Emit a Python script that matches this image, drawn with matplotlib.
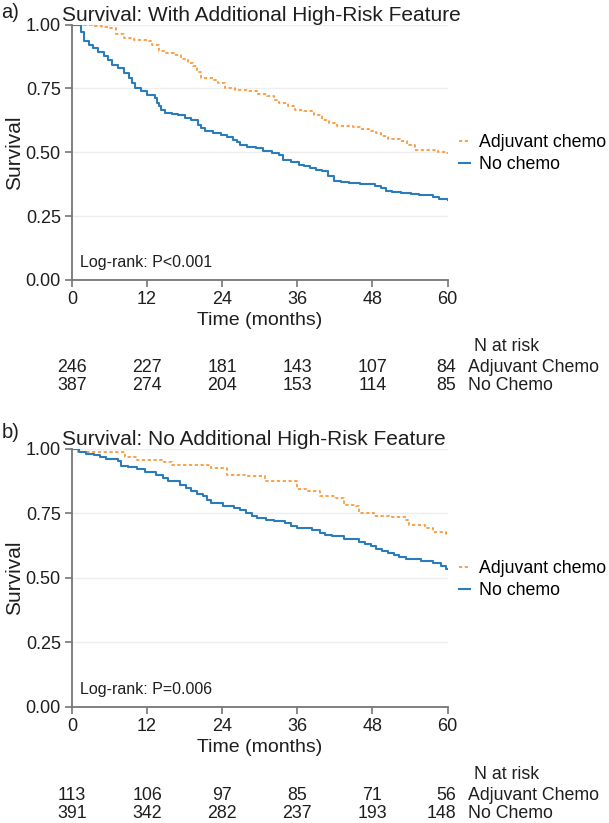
import matplotlib.pyplot as plt
import matplotlib.transforms as mtransforms

plt.rcParams['font.family'] = ['Liberation Sans', 'DejaVu Sans']

# ---- data (months, survival) ----
a_chemo_t = [0, 2, 3.5, 4.8, 5.8, 7, 8.3, 10, 12, 12.8, 13.9, 15, 16.3, 17.5, 18.5, 19.4,
             20, 20.7, 22.5, 23.3, 24.4, 26, 28.1, 29.5, 31.2, 32.2, 33.1, 34.5, 35.6, 37,
             38.7, 39.9, 41, 42.4, 44.9, 46, 47.4, 48.5, 49.3, 50.5, 52.4, 53.5, 54.8,
             57.3, 58.5, 59.8, 60]
a_chemo_s = [1.0, 1.0, 0.995, 0.99, 0.987, 0.965, 0.948, 0.94, 0.935, 0.92, 0.895, 0.89,
             0.882, 0.865, 0.85, 0.837, 0.815, 0.79, 0.784, 0.77, 0.75, 0.745, 0.739, 0.73,
             0.719, 0.705, 0.693, 0.68, 0.667, 0.66, 0.647, 0.627, 0.615, 0.604, 0.599,
             0.59, 0.582, 0.575, 0.562, 0.55, 0.543, 0.53, 0.51, 0.51, 0.50, 0.497, 0.497]
a_none_t = [0, 1.1, 1.5, 2.0, 2.7, 3.3, 4.2, 5.2, 5.8, 6.4, 7.3, 8.3, 9.2, 9.6, 10.1, 11,
            12, 13.2, 13.6, 13.9, 14.3, 14.8, 16, 17, 18, 19, 20.1, 20.7, 21.3, 22.5, 23.8,
            24.8, 25.7, 26.3, 26.9, 28, 29.4, 30.6, 31.9, 33.1, 33.7, 35, 36.2, 37, 38.1,
            39, 40, 40.9, 41.8, 43, 44.3, 46, 47.4, 48.4, 49.3, 50.2, 51.1, 52.6, 54.2,
            55.5, 56.7, 57.6, 58.6, 60]
a_none_s = [1.0, 1.0, 0.97, 0.935, 0.92, 0.908, 0.893, 0.876, 0.86, 0.843, 0.83, 0.81,
            0.79, 0.77, 0.75, 0.74, 0.725, 0.712, 0.695, 0.68, 0.665, 0.654, 0.65, 0.647,
            0.635, 0.625, 0.608, 0.595, 0.582, 0.575, 0.569, 0.56, 0.549, 0.54, 0.529,
            0.522, 0.516, 0.506, 0.497, 0.49, 0.471, 0.46, 0.451, 0.445, 0.438, 0.43,
            0.425, 0.405, 0.386, 0.382, 0.379, 0.377, 0.376, 0.368, 0.359, 0.35, 0.346,
            0.341, 0.337, 0.334, 0.333, 0.326, 0.318, 0.314]

b_chemo_t = [0, 1, 7.6, 8.5, 10.4, 14.7, 16, 22.2, 24.7, 27.8, 30.9, 35.9, 37.7, 39.6,
             42.1, 43.4, 45.3, 45.8, 48.3, 50.8, 53.3, 53.9, 56.4, 57.7, 59.8, 60]
b_chemo_s = [1.0, 0.99, 0.99, 0.968, 0.959, 0.948, 0.939, 0.926, 0.90, 0.894, 0.874,
             0.844, 0.836, 0.816, 0.81, 0.784, 0.778, 0.752, 0.742, 0.738, 0.725, 0.705,
             0.692, 0.68, 0.671, 0.671]
b_none_t = [0, 1.1, 2.3, 3.5, 4.5, 5.4, 7.3, 7.9, 9, 10.4, 11.6, 13.5, 14.5, 15.4, 17.2,
            18.2, 19.1, 20, 21, 21.6, 22.2, 24.1, 25.9, 26.9, 27.8, 28.7, 29.6, 31, 32.2,
            34, 35, 35.9, 38.4, 39.6, 40.5, 41.5, 43.4, 45.8, 46.8, 47.7, 48.6, 49.6, 50.5,
            51.4, 52.3, 53.3, 55.8, 57.7, 59, 59.8, 60]
b_none_s = [1.0, 0.99, 0.982, 0.978, 0.97, 0.961, 0.952, 0.935, 0.93, 0.922, 0.909, 0.90,
            0.886, 0.874, 0.861, 0.848, 0.836, 0.826, 0.816, 0.803, 0.79, 0.777, 0.771,
            0.762, 0.752, 0.742, 0.733, 0.726, 0.72, 0.713, 0.703, 0.694, 0.687, 0.674,
            0.667, 0.661, 0.651, 0.638, 0.63, 0.622, 0.612, 0.603, 0.596, 0.59, 0.582,
            0.573, 0.567, 0.558, 0.548, 0.534, 0.534]

risk_times = [0, 12, 24, 36, 48, 60]
a_risk_chemo = [246, 227, 181, 143, 107, 84]
a_risk_none = [387, 274, 204, 153, 114, 85]
b_risk_chemo = [113, 106, 97, 85, 71, 56]
b_risk_none = [391, 342, 282, 237, 193, 148]

titles = ['Survival: With Additional High-Risk Feature',
          'Survival: No Additional High-Risk Feature']
pvals = ['Log-rank: P<0.001', 'Log-rank: P=0.006']
tags = ['a)', 'b)']

orange = '#fb9a3c'
blue = '#2b7cbc'
grey = '#767676'
txt = '#1e1e1e'

fig = plt.figure(figsize=(6.09, 8.23), dpi=100)
ax_a = fig.add_axes([0.118, 0.660, 0.617, 0.310])
ax_b = fig.add_axes([0.118, 0.141, 0.617, 0.3135])

panels = [
    (ax_a, a_chemo_t, a_chemo_s, a_none_t, a_none_s, a_risk_chemo, a_risk_none),
    (ax_b, b_chemo_t, b_chemo_s, b_none_t, b_none_s, b_risk_chemo, b_risk_none),
]

for i, (ax, ct, cs, nt, ns, rc, rn) in enumerate(panels):
    ax.plot(ct, cs, drawstyle='steps-post', color=orange, lw=1.3, ls=(0, (1.8, 1.4)),
            label='Adjuvant chemo')
    ax.plot(nt, ns, drawstyle='steps-post', color=blue, lw=1.5, label='No chemo')

    ax.set_xlim(0, 60)
    ax.set_ylim(0, 1.0)
    ax.set_xticks(risk_times)
    ax.set_yticks([0, 0.25, 0.5, 0.75, 1.0])
    ax.set_yticklabels(['0.00', '0.25', '0.50', '0.75', '1.00'])
    ax.yaxis.grid(True, color='#eeeeee', lw=1.0)
    ax.set_axisbelow(True)
    for s in ['top', 'right']:
        ax.spines[s].set_visible(False)
    for s in ['left', 'bottom']:
        ax.spines[s].set_color(grey)
        ax.spines[s].set_linewidth(1.3)
    ax.tick_params(colors=grey, labelcolor=txt, labelsize=13, length=5, width=1.2, pad=3)

    ax.set_ylabel('Survival', fontsize=15, color=txt)
    ax.yaxis.set_label_coords(-0.128, 0.5)
    ax.set_xlabel('Time (months)', fontsize=14, color=txt, labelpad=3)
    ax.set_title(titles[i], fontsize=15, color=txt, loc='left', x=-0.027, pad=3)
    ax.text(1.3, 0.067, pvals[i], fontsize=11.5, color=txt, va='center')

    ax.legend(loc='center left', bbox_to_anchor=(1.03, 0.495), frameon=False,
              fontsize=12.8, handlelength=0.6, handletextpad=0.55, labelspacing=0.28,
              borderaxespad=0, borderpad=0)

    # number at risk table
    trans = mtransforms.blended_transform_factory(ax.transData, ax.transAxes)
    ax.text(64.2, -0.26, 'N at risk', transform=trans, fontsize=12.8, color=txt,
            va='center', ha='left')
    for j, t in enumerate(risk_times):
        ha = 'right' if t == 60 else 'center'
        xx = 61.4 if t == 60 else t
        ax.text(xx, -0.345, str(rc[j]), transform=trans, fontsize=12.8, ha=ha,
                va='center', color=txt)
        ax.text(xx, -0.413, str(rn[j]), transform=trans, fontsize=12.8, ha=ha,
                va='center', color=txt)
    ax.text(63.2, -0.345, 'Adjuvant Chemo', transform=trans, fontsize=12.8, ha='left',
            va='center', color=txt)
    ax.text(63.2, -0.413, 'No Chemo', transform=trans, fontsize=12.8, ha='left',
            va='center', color=txt)

fig.text(0.002, 1 - 12 / 823, tags[0], fontsize=14.5, color=txt, va='center')
fig.text(0.002, 1 - 433 / 823, tags[1], fontsize=14.5, color=txt, va='center')

fig.savefig('out.png', dpi=100, facecolor='white')
